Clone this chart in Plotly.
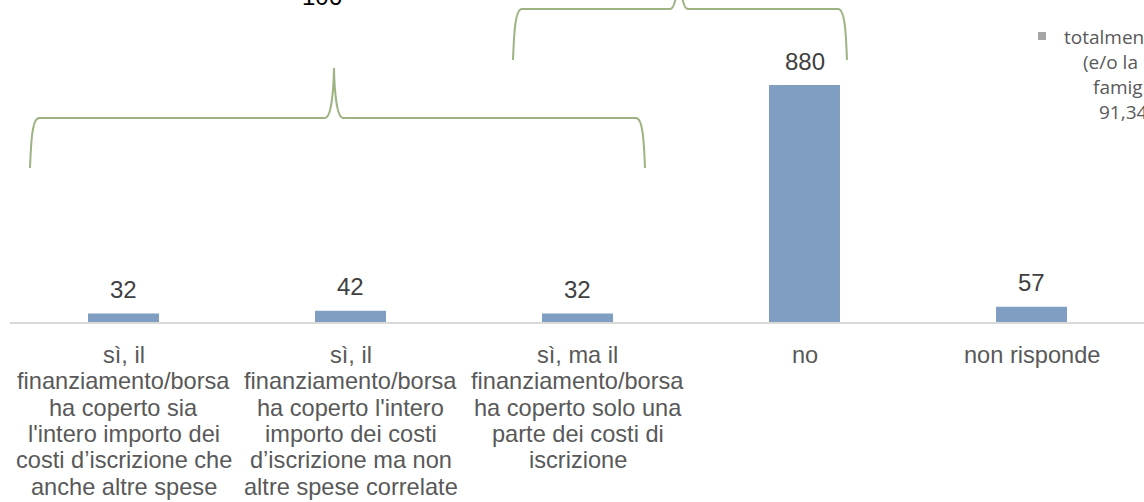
import plotly.graph_objects as go

# ---- data ----
category_lines = [
    ["sì, il", "finanziamento/borsa", "ha coperto sia", "l'intero importo dei",
     "costi d’iscrizione che", "anche altre spese"],
    ["sì, il", "finanziamento/borsa", "ha coperto l'intero", "importo dei costi",
     "d’iscrizione ma non", "altre spese correlate"],
    ["sì, ma il", "finanziamento/borsa", "ha coperto solo una", "parte dei costi di",
     "iscrizione"],
    ["no"],
    ["non risponde"],
]
categories = [" ".join(lines) for lines in category_lines]
values = [32, 42, 32, 880, 57]
legend_lines = ["totalmente", "(e/o la", "famiglia)", "91,34%"]

# ---- geometry helpers (page pixels) ----
W, H = 1144, 502
BASE_PY = 322          # baseline in page pixels
LEFT_PX = 10           # left edge of plot in page pixels
ML, MT, MR = LEFT_PX, 0, 0
MB = H - BASE_PY
PLOT_W = W - ML - MR
PLOT_H = H - MT - MB
PX_PER_CAT = 227.0
X_RANGE = [-0.5, -0.5 + PLOT_W / PX_PER_CAT]
Y_MAX = PLOT_H * 880 / 237.0
PX_PER_UNIT_Y = PLOT_H / Y_MAX

def px_to_x(px):
    return (px - LEFT_PX) / PX_PER_CAT - 0.5

def px_to_y(py):
    return (BASE_PY - py) / PX_PER_UNIT_Y

BAR_COLOR = "#809EC2"
BRACE_COLOR = "#9DB382"

fig = go.Figure()
fig.add_trace(go.Bar(
    x=categories, y=values, width=71 / PX_PER_CAT,
    marker=dict(color=BAR_COLOR, line=dict(width=0)),
    hoverinfo="x+y", showlegend=False,
))

annotations = []
# value labels
for c, v in zip(categories, values):
    annotations.append(dict(
        x=c, y=v, xref="x", yref="y", text=str(v), showarrow=False,
        yanchor="middle", yshift=24,
        font=dict(family="Liberation Sans, Arial", size=24, color="#404040"),
    ))
# category labels (one annotation per line for Excel-like line spacing)
for c, lines in zip(categories, category_lines):
    for i, line in enumerate(lines):
        annotations.append(dict(
            x=c, y=0, xref="x", yref="y", text=line, showarrow=False,
            yanchor="middle", xanchor="center", yshift=-33 - 26.3 * i,
            font=dict(family="Liberation Sans, Arial", size=23.6, color="#595959"),
        ))

# braces
def brace_path(xl, xr, xt, yb, yh, yt):
    dx = lambda p: p / PX_PER_CAT
    dy = lambda p: p / PX_PER_UNIT_Y
    return (
        f"M {xl},{yb} "
        f"C {xl + dx(1)},{yh - dy(25)} {xl + dx(2)},{yh} {xl + dx(9)},{yh} "
        f"L {xt - dx(9)},{yh} "
        f"C {xt - dx(3)},{yh} {xt - dx(0.5)},{yh + dy(25)} {xt},{yt} "
        f"C {xt + dx(0.5)},{yh + dy(25)} {xt + dx(3)},{yh} {xt + dx(9)},{yh} "
        f"L {xr - dx(9)},{yh} "
        f"C {xr - dx(2)},{yh} {xr - dx(1)},{yh - dy(25)} {xr},{yb}"
    )

braces = [
    # (left px, right px, tip px, bottom py, horizontal py, tip py) in page pixels
    (30, 645, 334, 168, 118, 68),
    (513, 847, 679, 60, 9, -41),
]
shapes = []
for (l, r, t, b, h, tt) in braces:
    shapes.append(dict(
        type="path", xref="x", yref="y",
        path=brace_path(px_to_x(l), px_to_x(r), px_to_x(t),
                        px_to_y(b), px_to_y(h), px_to_y(tt)),
        line=dict(color=BRACE_COLOR, width=2), layer="above",
    ))

# brace 1 sum label (cut at the top edge, as in the original)
annotations.append(dict(
    x=px_to_x(322), y=px_to_y(68), xref="x", yref="y",
    text=str(sum(values[0:3])), showarrow=False, yanchor="middle", yshift=72,
    font=dict(family="Liberation Sans, Arial", size=24, color="#000000"),
))

# partial legend (cut at right edge)
def px_to_paper_x(px):
    return (px - LEFT_PX) / PLOT_W

def py_to_paper_y(py):
    return (BASE_PY - py) / PLOT_H

shapes.append(dict(
    type="rect", xref="paper", yref="paper",
    x0=px_to_paper_x(1038), x1=px_to_paper_x(1046),
    y0=py_to_paper_y(40), y1=py_to_paper_y(32),
    fillcolor="#A5A5A5", line=dict(width=0),
))
legend_x = [1062, 1081, 1091, 1097]
for i, (line, lx) in enumerate(zip(legend_lines, legend_x)):
    annotations.append(dict(
        x=px_to_paper_x(lx), y=py_to_paper_y(37 + 25 * i), xref="paper", yref="paper",
        text=line, showarrow=False, xanchor="left", yanchor="middle",
        font=dict(family="Open Sans", size=19, color="#595959"),
    ))

fig.update_layout(
    width=W, height=H,
    margin=dict(l=ML, r=MR, t=MT, b=MB, pad=0),
    paper_bgcolor="white", plot_bgcolor="white",
    xaxis=dict(type="category", range=X_RANGE, showticklabels=False, ticks="",
               showgrid=False, zeroline=False, showline=True,
               linecolor="#D9D9D9", linewidth=2, fixedrange=True),
    yaxis=dict(range=[0, Y_MAX], visible=False, fixedrange=True),
    annotations=annotations, shapes=shapes,
    showlegend=False,
)

fig.write_html(
    "out.html",
    config={"displayModeBar": False},
    post_script="document.body.style.margin='0';document.body.style.overflow='hidden';",
)
